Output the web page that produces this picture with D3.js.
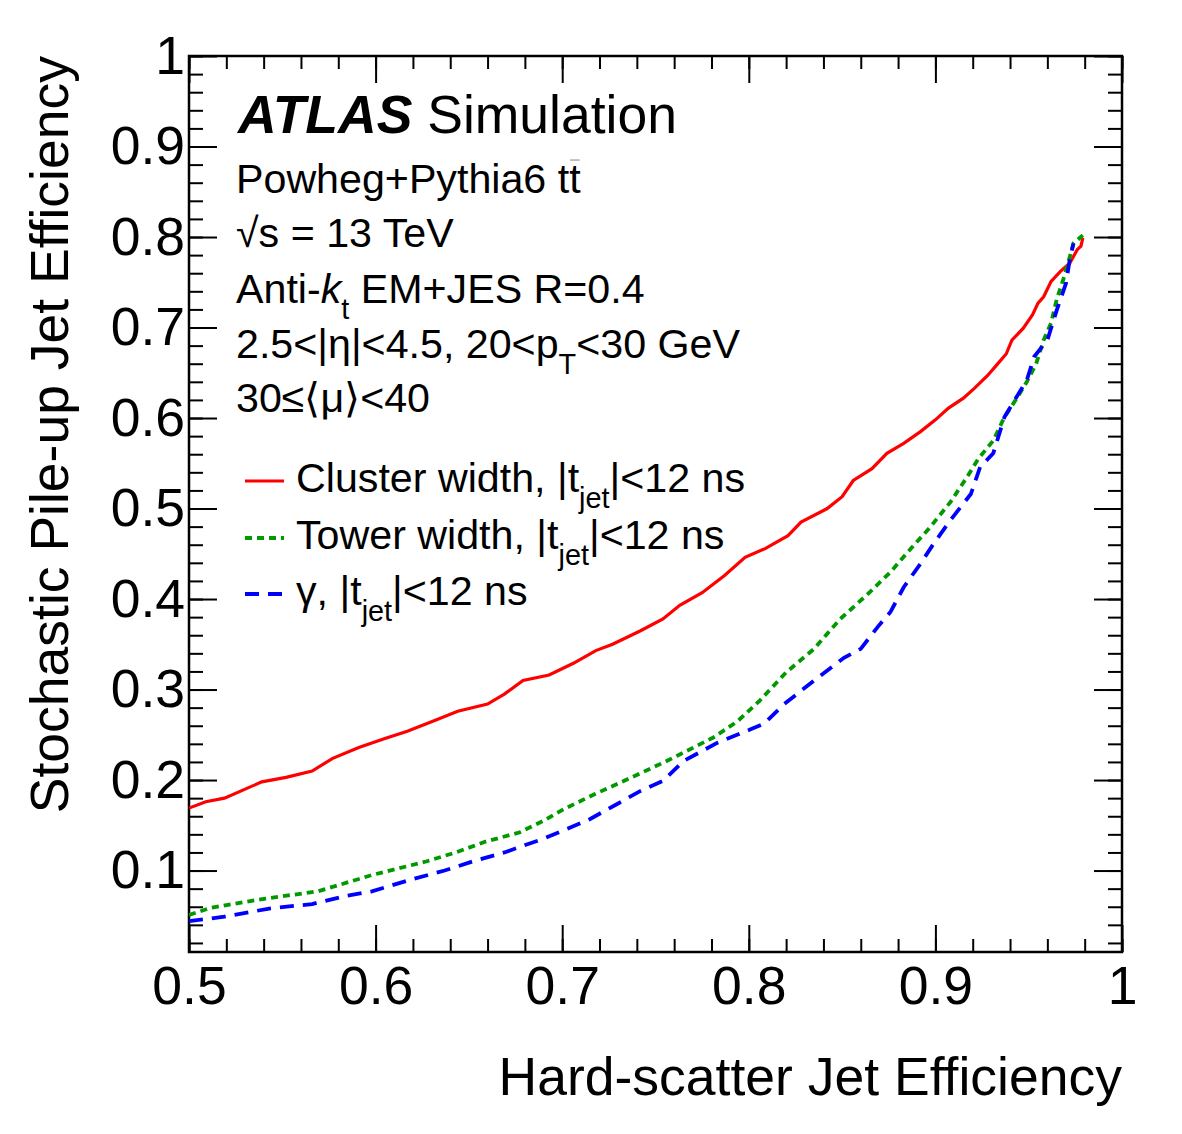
<!DOCTYPE html>
<html>
<head>
<meta charset="utf-8">
<script src="https://cdn.jsdelivr.net/npm/d3@7"></script>
<style>
  body { margin: 0; background: #fff; }
  text { font-family: "Liberation Sans", Arial, Helvetica, sans-serif; fill: #000; }
</style>
</head>
<body>
<div id="chart"></div>
<script>
// Cluster width, |t_jet|<12 ns
const clusterX = [0.500, 0.509, 0.519, 0.539, 0.552, 0.566, 0.577, 0.591, 0.605, 0.617, 0.632, 0.644, 0.660, 0.669, 0.679, 0.693, 0.706, 0.718, 0.727, 0.742, 0.754, 0.763, 0.775, 0.787, 0.798, 0.809, 0.821, 0.828, 0.842, 0.850, 0.856, 0.866, 0.874, 0.883, 0.892, 0.900, 0.907, 0.915, 0.921, 0.928, 0.933, 0.938, 0.941, 0.947, 0.952, 0.955, 0.958, 0.962, 0.967, 0.972, 0.976, 0.978, 0.979];
const clusterY = [0.169, 0.176, 0.180, 0.198, 0.203, 0.210, 0.224, 0.236, 0.246, 0.254, 0.266, 0.276, 0.284, 0.295, 0.310, 0.316, 0.329, 0.343, 0.350, 0.365, 0.378, 0.393, 0.407, 0.426, 0.446, 0.456, 0.470, 0.485, 0.500, 0.513, 0.531, 0.544, 0.561, 0.572, 0.585, 0.598, 0.611, 0.622, 0.633, 0.647, 0.659, 0.671, 0.686, 0.699, 0.714, 0.727, 0.734, 0.751, 0.762, 0.771, 0.786, 0.790, 0.799];

// Tower width, |t_jet|<12 ns
const towerX = [0.500, 0.512, 0.541, 0.569, 0.598, 0.627, 0.643, 0.659, 0.677, 0.690, 0.701, 0.717, 0.733, 0.756, 0.781, 0.794, 0.806, 0.820, 0.835, 0.849, 0.863, 0.876, 0.887, 0.897, 0.908, 0.917, 0.923, 0.931, 0.937, 0.944, 0.949, 0.954, 0.958, 0.962, 0.965, 0.969, 0.972, 0.974, 0.979];
const towerY = [0.051, 0.059, 0.069, 0.077, 0.095, 0.110, 0.120, 0.132, 0.142, 0.155, 0.168, 0.184, 0.199, 0.221, 0.247, 0.265, 0.288, 0.319, 0.345, 0.378, 0.404, 0.430, 0.456, 0.479, 0.507, 0.535, 0.555, 0.575, 0.601, 0.623, 0.640, 0.660, 0.686, 0.705, 0.731, 0.756, 0.778, 0.793, 0.802];

// gamma, |t_jet|<12 ns
const gammaX = [0.500, 0.519, 0.543, 0.566, 0.584, 0.598, 0.619, 0.637, 0.652, 0.669, 0.691, 0.715, 0.729, 0.742, 0.754, 0.765, 0.783, 0.801, 0.808, 0.819, 0.835, 0.851, 0.860, 0.869, 0.876, 0.883, 0.892, 0.899, 0.908, 0.919, 0.924, 0.931, 0.937, 0.949, 0.953, 0.960, 0.965, 0.970, 0.972, 0.974];
const gammaY = [0.044, 0.049, 0.058, 0.063, 0.072, 0.077, 0.090, 0.100, 0.110, 0.120, 0.136, 0.157, 0.173, 0.188, 0.199, 0.221, 0.241, 0.256, 0.262, 0.284, 0.310, 0.335, 0.345, 0.369, 0.386, 0.413, 0.439, 0.461, 0.487, 0.516, 0.546, 0.561, 0.601, 0.642, 0.668, 0.686, 0.719, 0.749, 0.775, 0.793];

const xTicks = [0.5, 0.6, 0.7, 0.8, 0.9, 1.0];
const xTickLabels = ["0.5", "0.6", "0.7", "0.8", "0.9", "1"];
const yTicks = [0.1, 0.2, 0.3, 0.4, 0.5, 0.6, 0.7, 0.8, 0.9, 1.0];
const yTickLabels = ["0.1", "0.2", "0.3", "0.4", "0.5", "0.6", "0.7", "0.8", "0.9", "1"];

const width = 1182, height = 1134;
const margin = {top: 56, right: 60, bottom: 182, left: 189};
const w = width - margin.left - margin.right;
const h = height - margin.top - margin.bottom;
const bigFont = 53.5, smallFont = 41.2;

const svg = d3.select("#chart").append("svg")
  .attr("width", width)
  .attr("height", height);

svg.append("rect").attr("width", width).attr("height", height).attr("fill", "#fff");

const g = svg.append("g").attr("transform", `translate(${margin.left},${margin.top})`);

// Scales
const x = d3.scaleLinear().domain([0.5, 1.0]).range([0, w]);
const y = d3.scaleLinear().domain([0.01, 1.0]).range([h, 0]);

const minorX = d3.range(0.5, 1.0001, 0.02);
const minorY = d3.range(0.02, 1.0001, 0.02);

// Axis helper: ticks point inward, ROOT style
function drawAxis(axisFn, scale, pos, major, minor, majorLen, minorLen, labels) {
  let ax = g.append("g").attr("transform", pos);
  ax.call(axisFn(scale).tickValues(minor).tickSize(-minorLen).tickSizeOuter(0).tickFormat(""));
  let axMajor = g.append("g").attr("transform", pos);
  axMajor.call(axisFn(scale).tickValues(major).tickSize(-majorLen).tickSizeOuter(0)
    .tickPadding(labels ? (axisFn === d3.axisBottom ? 14 : 4) : 0)
    .tickFormat((d, i) => labels ? labels[i] : ""));
  for (let a of [ax, axMajor]) {
    a.select(".domain").remove();
    a.selectAll(".tick line").attr("stroke", "#000").attr("stroke-width", 2);
    a.selectAll("text").attr("font-size", bigFont).attr("font-family", "Liberation Sans, Arial, sans-serif").attr("fill", "#000");
  }
}

drawAxis(d3.axisBottom, x, `translate(0,${h})`, xTicks, minorX, 27, 13, xTickLabels);
drawAxis(d3.axisTop, x, "translate(0,0)", xTicks, minorX, 27, 13, null);
drawAxis(d3.axisLeft, y, "translate(0,0)", yTicks, minorY, 28, 14, yTickLabels);
drawAxis(d3.axisRight, y, `translate(${w},0)`, yTicks, minorY, 28, 14, null);

// Frame
g.append("rect")
  .attr("width", w).attr("height", h)
  .attr("fill", "none").attr("stroke", "#000").attr("stroke-width", 2.5);

// Curves
g.append("clipPath").attr("id", "clip")
  .append("rect").attr("width", w).attr("height", h);

const line = d3.line()
  .x(d => x(d[0]))
  .y(d => y(d[1]));

const series = [
  {xs: clusterX, ys: clusterY, color: "#ff0000", width: 3.2, dash: null},
  {xs: towerX, ys: towerY, color: "#009a00", width: 3.8, dash: "7,5"},
  {xs: gammaX, ys: gammaY, color: "#0000ff", width: 3.8, dash: "14,9"}
];

for (let s of series) {
  g.append("path")
    .datum(d3.zip(s.xs, s.ys))
    .attr("clip-path", "url(#clip)")
    .attr("fill", "none")
    .attr("stroke", s.color)
    .attr("stroke-width", s.width)
    .attr("stroke-dasharray", s.dash)
    .attr("d", line);
}

// Axis titles
svg.append("text")
  .attr("x", margin.left + w)
  .attr("y", 1095)
  .attr("text-anchor", "end")
  .attr("font-size", bigFont)
  .text("Hard-scatter Jet Efficiency");

svg.append("text")
  .attr("transform", `translate(68,${margin.top}) rotate(-90)`)
  .attr("text-anchor", "end")
  .attr("font-size", bigFont)
  .text("Stochastic Pile-up Jet Efficiency");

// Rich text: segments of {t, sub, it, bold, over}
function richText(xp, yp, size, segs) {
  let t = svg.append("text").attr("x", xp).attr("y", yp).attr("font-size", size);
  let lowered = false;
  let overIdx = [];
  let pos = 0;
  for (let s of segs) {
    let sp = t.append("tspan").text(s.t);
    if (s.sub && !lowered) { sp.attr("dy", size * 0.4).attr("font-size", size * 0.7); lowered = true; }
    else if (s.sub) { sp.attr("font-size", size * 0.7); }
    else if (lowered) { sp.attr("dy", -size * 0.4); lowered = false; }
    if (s.it) sp.attr("font-style", "italic");
    if (s.bold) sp.attr("font-weight", "bold");
    if (s.over) overIdx.push(pos);
    pos += s.t.length;
  }
  // thin bar over a character (e.g. anti-top)
  for (let i of overIdx) {
    let r = t.node().getExtentOfChar(i);
    svg.append("line")
      .attr("x1", r.x + 1).attr("x2", r.x + r.width - 1)
      .attr("y1", yp - size * 0.8).attr("y2", yp - size * 0.8)
      .attr("stroke", "#999").attr("stroke-width", 1.2);
  }
  return t;
}

richText(238, 133, bigFont, [{t: "ATLAS", it: true, bold: true}, {t: " Simulation"}]);

const infoLines = [
  [{t: "Powheg+Pythia6 t"}, {t: "t", over: true}],
  [{t: "\u221As = 13 TeV"}],
  [{t: "Anti-"}, {t: "k", it: true}, {t: "t", sub: true}, {t: " EM+JES R=0.4"}],
  [{t: "2.5<|\u03B7|<4.5, 20<p"}, {t: "T", sub: true}, {t: "<30 GeV"}],
  [{t: "30\u2264\u27E8\u03BC\u27E9<40"}]
];
const infoY = [193, 247, 303, 358, 412];
infoLines.forEach((segs, i) => richText(236, infoY[i], smallFont, segs));

// Legend
const legendLabels = [
  [{t: "Cluster width, |t"}, {t: "jet", sub: true}, {t: "|<12 ns"}],
  [{t: "Tower width, |t"}, {t: "jet", sub: true}, {t: "|<12 ns"}],
  [{t: "\u03B3, |t"}, {t: "jet", sub: true}, {t: "|<12 ns"}]
];
const legendY = [492, 549, 605];
legendLabels.forEach((segs, i) => {
  let s = series[i];
  svg.append("line")
    .attr("x1", 245).attr("x2", 284)
    .attr("y1", legendY[i] - 11).attr("y2", legendY[i] - 11)
    .attr("stroke", s.color)
    .attr("stroke-width", s.width)
    .attr("stroke-dasharray", s.dash);
  richText(296, legendY[i], smallFont, segs);
});
</script>
</body>
</html>
